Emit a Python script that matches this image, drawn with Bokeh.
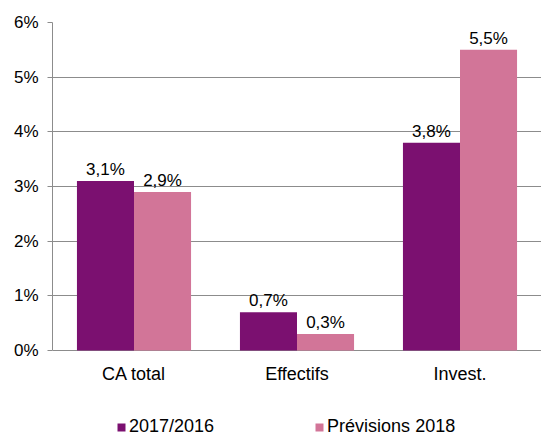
from bokeh.plotting import figure
from bokeh.models import ColumnDataSource, FactorRange, Range1d, Legend, LegendItem, FixedTicker, CustomJSTickFormatter
from bokeh.transform import dodge
from bokeh.core.properties import value
from bokeh.embed import file_html
from bokeh.resources import INLINE

categories = ["CA total", "Effectifs", "Invest."]
series_2017 = [3.1, 0.7, 3.8]
series_2018 = [2.9, 0.3, 5.5]
labels_2017 = ["3,1%", "0,7%", "3,8%"]
labels_2018 = ["2,9%", "0,3%", "5,5%"]
series_names = ["2017/2016", "Prévisions 2018"]
y_ticks = [0, 1, 2, 3, 4, 5, 6]
colors = ["#7B1070", "#D27598"]

FONT = "Liberation Sans"

src = ColumnDataSource(dict(cat=categories, a=series_2017, b=series_2018,
                            la=labels_2017, lb=labels_2018, zero=[0] * len(categories)))

# frame: 22px top border, 0% at 350px, bottom of page at 437px
y_max = y_ticks[-1]
px_per_unit = (350 - 22) / y_max
y_min = -(437 - 350) / px_per_unit

p = figure(x_range=FactorRange(*categories, range_padding=0), y_range=Range1d(y_min, y_max),
           width=541, height=437, output_backend="svg", toolbar_location=None,
           x_axis_location=None,
           min_border_left=52, min_border_top=22, min_border_right=0, min_border_bottom=0)

p.outline_line_color = None
p.background_fill_color = "white"

ra = p.vbar(x=dodge("cat", -0.175, range=p.x_range), top="a", width=0.35, source=src,
            fill_color=colors[0], line_color=None)
rb = p.vbar(x=dodge("cat", 0.175, range=p.x_range), top="b", width=0.35, source=src,
            fill_color=colors[1], line_color=None)

p.text(x=dodge("cat", -0.175, range=p.x_range), y="a", text="la", source=src,
       text_align="center", text_baseline="bottom", y_offset=-2,
       text_font=value(FONT), text_font_size="17px", text_color="#000000")
p.text(x=dodge("cat", 0.175, range=p.x_range), y="b", text="lb", source=src,
       text_align="center", text_baseline="bottom", y_offset=-2,
       text_font=value(FONT), text_font_size="17px", text_color="#000000")

# category labels under the baseline
p.text(x="cat", y="zero", text="cat", source=src,
       text_align="center", text_baseline="top", y_offset=13,
       text_font=value(FONT), text_font_size="18px", text_color="#000000")

# y axis
p.yaxis.ticker = FixedTicker(ticks=y_ticks)
p.yaxis.bounds = (y_ticks[0], y_ticks[-1])
p.yaxis.formatter = CustomJSTickFormatter(code="return tick.toFixed(0) + '%';")
p.yaxis.axis_line_color = "#8C8C8C"
p.yaxis.major_tick_line_color = "#8C8C8C"
p.yaxis.major_tick_out = 5
p.yaxis.major_tick_in = 0
p.yaxis.minor_tick_line_color = None
p.yaxis.major_label_standoff = 9
p.yaxis.major_label_text_font = FONT
p.yaxis.major_label_text_font_size = "17px"
p.yaxis.major_label_text_color = "#000000"

p.xgrid.grid_line_color = None
p.ygrid.grid_line_color = "#8C8C8C"
p.ygrid.grid_line_width = 1

legend = Legend(items=[LegendItem(label=series_names[0], renderers=[ra]),
                       LegendItem(label=series_names[1], renderers=[rb])],
                orientation="horizontal", location=(64, 0),
                glyph_width=10, glyph_height=10, label_standoff=3, spacing=100,
                label_text_font=FONT, label_text_font_size="18px",
                label_text_color="#000000", border_line_color=None,
                background_fill_alpha=0, padding=0, margin=0)
p.add_layout(legend, "center")

open("out.html", "w").write(file_html(p, INLINE))
